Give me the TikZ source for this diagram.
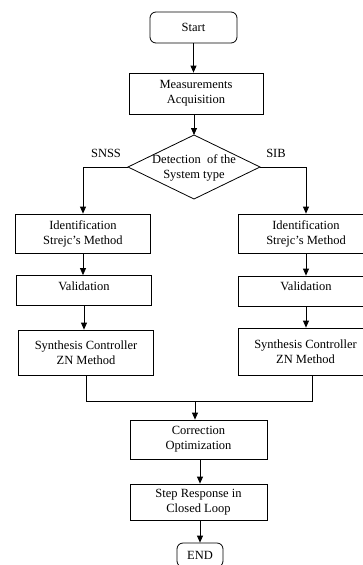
\documentclass[tikz,border=0pt]{standalone}
\usepackage{fontspec}
\setmainfont{Liberation Serif}
\usetikzlibrary{arrows.meta,calc}
\begin{document}
\begin{tikzpicture}[x=1pt,y=-1pt,
  font=\fontsize{12.5}{15}\selectfont,
  line width=0.8pt,
  box/.style={draw, align=center, inner sep=0pt, minimum width=135pt},
  valbox/.style={box, minimum height=30pt, text height=9pt, text depth=10pt},
  term/.style={draw, align=center, inner sep=0pt, rounded corners=6pt},
  lbl/.style={inner sep=0pt},
  arr/.style={-{Triangle[length=7pt,width=6pt]}}]
\clip (0,0) rectangle (363,565);
% central column
\node[term, minimum width=87pt, minimum height=31pt] (start) at (193.5,27.5) {Start};
\node[box, minimum width=134pt, minimum height=41pt] (meas) at (196,93.5) {Measurements\\Acquisition};
% decision
\coordinate (detN) at (194,135);
\coordinate (detS) at (194,199);
\coordinate (detW) at (128,167);
\coordinate (detE) at (260,167);
\draw (detN) -- (detE) -- (detS) -- (detW) -- cycle;
\node[lbl, align=center] (det) at (194,168) {Detection\ \ of the\\System type};
\node[lbl] (snss) at (106,153) {SNSS};
\node[lbl] (sib) at (276,153) {SIB};
% left branch
\node[box, minimum height=39pt] (idL) at (83,233.5) {Identification\\Strejc's Method};
\node[valbox] (valL) at (84,290.5) {Validation};
\node[box, minimum height=45pt] (synL) at (86,352.5) {Synthesis Controller\\ZN Method};
% right branch
\node[box, minimum height=39pt] (idR) at (306,233.5) {Identification\\Strejc's Method};
\node[valbox] (valR) at (306,291) {Validation};
\node[box, minimum height=47pt] (synR) at (305.5,351.5) {Synthesis Controller\\ZN Method};
% bottom
\node[box, minimum width=137pt, minimum height=39pt] (corr) at (198.5,439.5) {Correction\\Optimization};
\node[box, minimum width=137pt, minimum height=36pt] (step) at (198.5,502) {Step Response in\\Closed Loop};
\node[term, minimum width=46pt, minimum height=24pt] (endn) at (200,555) {END};
% connectors
\draw[arr] (start.south) -- (start.south |- meas.north);
\draw[arr] (detN |- meas.south) -- (detN);
\draw[arr] (detW) -| (idL.north);
\draw[arr] (detE) -| (idR.north);
\draw[arr] (idL.south) -- (idL.south |- valL.north);
\draw[arr] (valL.south) -- (valL.south |- synL.north);
\draw[arr] (idR.south) -- (valR.north);
\draw[arr] (valR.south) -- (valR.south |- synR.north);
\coordinate (jL) at (86,401);
\coordinate (jR) at (312,401);
\coordinate (jM) at (195,401);
\draw (jL |- synL.south) -- (jL) -- (jR) -- (jR |- synR.south);
\draw[arr] (jM) -- (jM |- corr.north);
\draw[arr] (endn |- corr.south) -- (endn |- step.north);
\draw[arr] (endn |- step.south) -- (endn.north);
\end{tikzpicture}
\end{document}
